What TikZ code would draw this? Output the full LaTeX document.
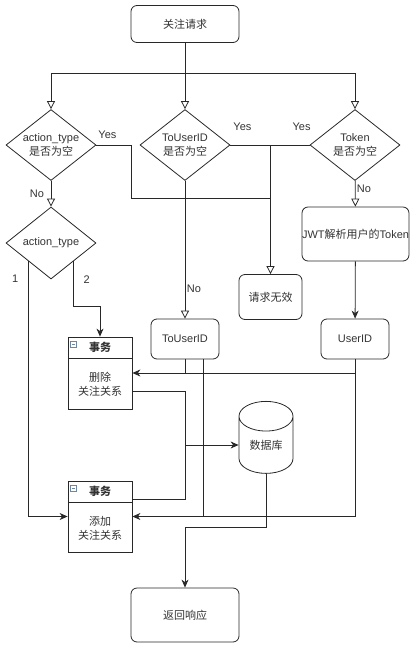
\documentclass[tikz,border=0pt]{standalone}
\usepackage{fontspec}
\setmainfont{Liberation Sans}
\newfontfamily\cjk{Noto Sans CJK SC}
\usetikzlibrary{shapes.geometric, arrows.meta, positioning, calc}
\definecolor{linegray}{RGB}{40,40,40}
\definecolor{textgray}{RGB}{51,51,51}
\definecolor{icongray}{RGB}{110,135,160}
\tikzset{
  base/.style={
    draw=linegray, line width=0.8pt, text=textgray, align=center,
    font=\fontsize{11}{14}\selectfont
  },
  proc/.style={base, rectangle, rounded corners=6pt, inner sep=1pt},
  dec/.style={base, diamond, minimum width=90pt, minimum height=71pt,
    inner sep=0pt, shape aspect=1.27},
  lane/.style={base, rectangle, minimum width=64pt},
  lanehd/.style={base, rectangle, minimum width=64pt, minimum height=21pt,
    inner sep=0pt, font=\fontsize{11}{14}\selectfont\cjk\bfseries},
  lanetxt/.style={text=textgray, align=center, minimum height=51pt,
    font=\fontsize{11}{14}\selectfont\cjk},
  icon/.style={rectangle, draw=icongray, line width=0.6pt, minimum size=6pt,
    inner sep=0pt, path picture={\draw[icongray, line width=0.6pt]
      ([xshift=1.3pt]path picture bounding box.west) --
      ([xshift=-1.3pt]path picture bounding box.east);}},
  db/.style={base, cylinder, shape border rotate=90, aspect=0.9,
    minimum width=54pt, minimum height=72pt, inner sep=0pt},
  line/.style={draw=linegray, line width=0.8pt},
  oarr/.style={line, -{Triangle[open, length=8pt, width=8pt]}},
  farr/.style={line, -{Stealth[length=8pt, width=7pt, inset=2.5pt]}},
  lbl/.style={text=textgray, font=\fontsize{11}{14}\selectfont, inner sep=0pt}
}

\begin{document}
\begin{tikzpicture}[x=1pt, y=-1pt]
  \useasboundingbox (0,0) rectangle (418,654);

  % top part
  \node[proc, minimum width=108pt, minimum height=37pt] (start) at (185,24) {\cjk 关注请求};
  \coordinate (split) at (185,73);
  \node[dec] (d1) at (51,145)  {action\_type\\{\cjk 是否为空}};
  \node[dec] (d2) at (185,145) {ToUserID\\{\cjk 是否为空}};
  \node[dec] (d3) at (355,145) {Token\\{\cjk 是否为空}};
  \node[dec, minimum height=72pt] (d4) at (51,243) {action\_type};

  \node[proc, minimum width=63pt, minimum height=45pt] (invalid) at (270.5,297) {\cjk 请求无效};
  \node[proc, minimum width=106pt, minimum height=54pt, inner sep=0pt] (jwt) at (355.5,234)
      {JWT{\cjk 解析用户的}Token};
  \node[proc, minimum width=68pt, minimum height=40pt] (touid) at (185,339) {ToUserID};
  \node[proc, minimum width=68pt, minimum height=40pt] (uid) at (355,339) {UserID};

  % transactions
  \node[lane, minimum height=72pt] (del) at (100,373) {};
  \node[lanehd, anchor=north] (delh) at (del.north) {事务};
  \node[lanetxt, below=0pt of delh] (delb) {删除\\关注关系};
  \node[icon] at ([shift={(6,8)}]del.north west) {};

  \node[lane, minimum height=71pt] (add) at (100,516.5) {};
  \node[lanehd, anchor=north] (addh) at (add.north) {事务};
  \node[lanetxt, below=0pt of addh] (addb) {添加\\关注关系};
  \node[icon] at ([shift={(6,8)}]add.north west) {};

  \node[db] (db) at (266,445) {\cjk 数据库};
  \node[proc, minimum width=108pt, minimum height=54pt] (ret) at (185,615) {\cjk 返回响应};

  % connectors
  \draw[line] (start) -- (split);
  \draw[oarr] (split) -| (d1);
  \draw[oarr] (split) -- (d2);
  \draw[oarr] (split) -| (d3);

  \coordinate (yesjoin) at (invalid.north |- 0,198);
  \draw[line] (d1.east) -- ++(35,0) |- (yesjoin);
  \draw[line] (d2.east) -- (d3.west);
  \draw[oarr] (invalid.north |- d2.east) -- (invalid);

  \draw[oarr] (d1) -- (d4);
  \draw[oarr] (d2) -- (touid);
  \draw[oarr] (d3) -- (jwt);
  \draw[farr] (jwt) -- (uid);

  \draw[farr] (d4.south east) -- ++(0,45) -| (del.north);
  \draw[farr] (d4.south west) |- (add.west);

  \draw[farr] (uid.south) |- (del.east);
  \draw[farr] (uid.south) |- (add.east);
  \draw[line] (touid.south) -- (touid.south |- del.east);
  \draw[line] ([xshift=18pt]touid.south) -- ([xshift=18pt]touid.south |- add.east);

  \coordinate (dbin) at (touid.south |- db.west);
  \draw[farr] ([yshift=-18pt]del.east) -| (dbin) -- (db.west);
  \draw[line] ([yshift=-8pt]addh.east) -| (dbin);
  \draw[farr] (db.south) -- ++(0,54) -| (ret.north);

  % labels
  \node[lbl] at ([shift={(11,-10)}]d1.east) {Yes};
  \node[lbl] at ([shift={(12,-18)}]d2.east) {Yes};
  \node[lbl] at ([shift={(-8,-18)}]d3.west) {Yes};
  \node[lbl] at ([shift={(-14,13)}]d1.south) {No};
  \node[lbl] at ([shift={(9,8)}]d3.south) {No};
  \node[lbl] at ([shift={(9,-30)}]touid.north) {No};
  \node[lbl] at ([shift={(-13,18)}]d4.south west) {1};
  \node[lbl] at ([shift={(13,18)}]d4.south east) {2};
\end{tikzpicture}
\end{document}
